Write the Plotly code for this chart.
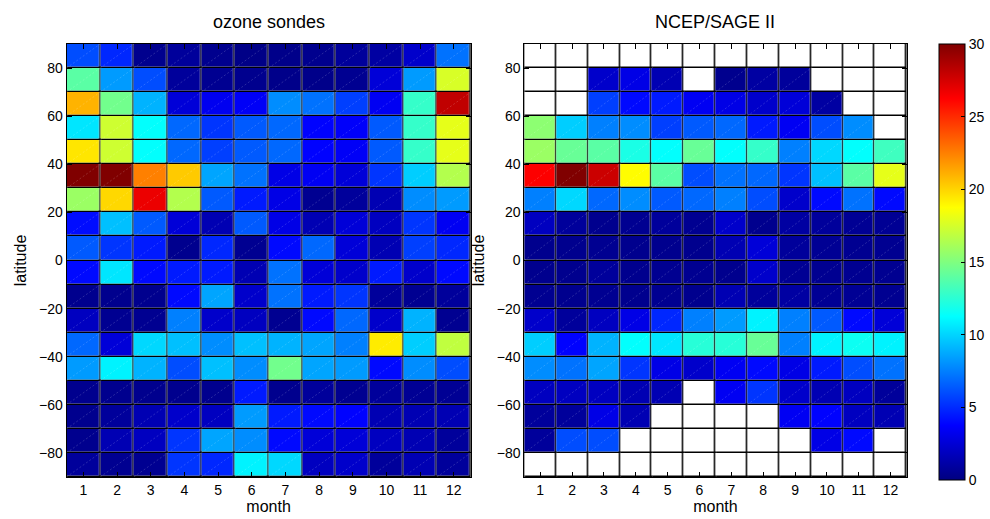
import plotly.graph_objects as go

months = list(range(1, 13))
month_labels = [str(m) for m in months]
lat = [85, 75, 65, 55, 45, 35, 25, 15, 5, -5, -15, -25, -35, -45, -55, -65, -75, -85]
lat_ticks = [80, 60, 40, 20, 0, -20, -40, -60, -80]
cbar_ticks = [0, 5, 10, 15, 20, 25, 30]

N = None
sondes = [
    [6.0, 4.9, 0.4, 0.8, 0.4, 0.2, 0.3, 0.4, 0.8, 1.0, 2.2, 7.1],
    [13.9, 8.3, 6.0, 0.8, 0.5, 0.4, 0.3, 0.3, 0.5, 2.6, 8.3, 17.6],
    [21.0, 14.6, 9.0, 2.6, 3.3, 3.5, 7.9, 7.1, 5.6, 3.4, 12.8, 28.1],
    [10.5, 17.3, 11.3, 6.8, 5.3, 6.4, 6.8, 3.8, 3.6, 6.4, 12.8, 18.0],
    [19.5, 17.3, 11.3, 6.8, 5.6, 6.4, 6.8, 3.8, 3.5, 6.4, 12.8, 18.0],
    [30.0, 30.0, 22.5, 20.3, 8.6, 7.1, 3.0, 3.4, 2.6, 5.3, 9.8, 16.5],
    [15.8, 19.9, 26.8, 16.5, 6.4, 4.5, 3.0, 0.5, 0.8, 1.5, 7.9, 8.3],
    [4.1, 9.4, 6.4, 2.6, 1.5, 6.4, 3.0, 1.5, 2.6, 1.9, 5.3, 3.4],
    [6.4, 5.3, 4.5, 0.4, 4.9, 0.5, 4.0, 6.8, 2.6, 1.5, 5.6, 4.9],
    [4.0, 10.5, 4.0, 4.5, 4.5, 1.5, 7.1, 2.6, 2.2, 4.5, 2.2, 4.0],
    [0.4, 0.4, 0.4, 4.0, 8.6, 2.2, 7.1, 4.5, 5.3, 0.8, 0.5, 0.8],
    [1.9, 0.5, 0.5, 7.5, 2.2, 1.9, 0.5, 4.0, 6.8, 2.2, 9.0, 0.5],
    [6.8, 2.6, 10.1, 9.4, 7.9, 9.4, 9.0, 8.6, 7.5, 19.3, 9.8, 16.9],
    [8.3, 10.9, 9.0, 6.0, 9.4, 7.9, 14.6, 8.6, 8.3, 4.0, 7.9, 6.0],
    [0.4, 0.4, 0.4, 0.4, 0.4, 4.5, 0.4, 0.8, 0.5, 0.8, 0.6, 0.6],
    [0.4, 0.8, 1.5, 2.2, 1.9, 8.3, 4.5, 4.0, 3.8, 1.5, 1.5, 1.5],
    [0.4, 1.5, 1.9, 5.3, 8.6, 7.9, 4.0, 2.6, 2.6, 1.9, 1.5, 0.8],
    [0.8, 0.5, 0.5, 5.3, 4.9, 10.9, 10.1, 1.9, 2.2, 0.8, 1.5, 0.8],
]

ncep_sage = [
    [N, N, N, N, N, N, N, N, N, N, N, N],
    [N, N, 2.2, 3.0, 1.5, N, 0.4, 1.0, 0.8, N, N, N],
    [N, N, 5.6, 4.0, 4.5, 3.4, 3.0, 2.2, 2.6, 1.0, N, N],
    [15.4, 9.8, 7.5, 7.9, 5.6, 6.4, 6.8, 4.5, 3.4, 6.0, 7.9, N],
    [15.8, 14.3, 13.9, 12.0, 11.3, 14.3, 11.3, 12.8, 7.5, 10.1, 11.3, 13.1],
    [26.3, 30.0, 27.8, 18.8, 13.9, 6.0, 7.1, 6.8, 5.3, 9.4, 13.9, 18.0],
    [7.5, 10.1, 6.8, 7.9, 6.4, 6.8, 7.5, 6.0, 2.2, 4.0, 7.1, 4.0],
    [1.9, 0.8, 0.4, 0.5, 0.8, 0.5, 2.2, 0.4, 1.0, 0.8, 0.6, 0.6],
    [0.4, 0.4, 0.5, 0.4, 0.4, 0.4, 1.5, 2.6, 0.8, 0.6, 0.5, 0.5],
    [0.4, 0.4, 0.8, 0.4, 0.5, 0.5, 0.4, 2.2, 0.6, 0.5, 0.5, 0.5],
    [0.5, 0.4, 0.5, 0.4, 0.5, 0.4, 1.5, 0.8, 1.0, 0.6, 0.6, 0.5],
    [2.2, 0.8, 1.9, 3.0, 4.9, 7.5, 8.3, 10.9, 7.5, 6.4, 4.0, 2.6],
    [9.8, 3.8, 9.0, 11.3, 10.5, 12.4, 12.4, 14.3, 7.5, 10.9, 11.6, 10.9],
    [7.9, 7.1, 8.6, 5.3, 3.0, 2.2, 3.4, 4.0, 3.0, 4.5, 6.0, 7.1],
    [1.9, 1.9, 1.9, 1.5, 1.5, N, 3.4, 5.3, 2.2, 1.5, 1.9, 0.8],
    [0.8, 0.8, 3.0, 1.5, N, N, N, N, 3.4, 3.8, 1.9, 1.5],
    [0.8, 6.0, 6.0, N, N, N, N, N, N, 3.0, 4.0, N],
    [N, N, N, N, N, N, N, N, N, N, N, N],
]

FONT = "Liberation Sans, Arial, Helvetica, sans-serif"

jet = [
    [0.0, "rgb(0,0,128)"],
    [0.125, "rgb(0,0,255)"],
    [0.375, "rgb(0,255,255)"],
    [0.625, "rgb(255,255,0)"],
    [0.875, "rgb(255,0,0)"],
    [1.0, "rgb(128,0,0)"],
]

fig = go.Figure()

blank = [[0 for _ in months] for _ in lat]

# faint diagonal rendering artefact in every cell (corner to corner)
dx, dy = [], []
for m in months:
    for la in lat:
        dx += [m - 0.5, m + 0.5, None]
        dy += [la - 5, la + 5, None]

for data, xa, ya in [(sondes, "x", "y"), (ncep_sage, "x2", "y2")]:
    fig.add_trace(go.Heatmap(
        z=blank, x=months, y=lat, xaxis=xa, yaxis=ya,
        colorscale=[[0, "white"], [1, "white"]], showscale=False,
        xgap=1.5, ygap=1.5, hoverinfo="skip"))
    fig.add_trace(go.Heatmap(
        z=data, x=months, y=lat, xaxis=xa, yaxis=ya,
        coloraxis="coloraxis", xgap=1.5, ygap=1.5))
    fig.add_trace(go.Scatter(
        x=dx, y=dy, xaxis=xa, yaxis=ya, mode="lines",
        line=dict(color="rgba(255,255,255,0.28)", width=0.6, dash="2px,2px"),
        hoverinfo="skip", showlegend=False))

y_dom = [(519 - 477) / 519, (519 - 44) / 519]
ax_common = dict(showline=True, linecolor="black", linewidth=1, mirror="ticks",
                 ticks="inside", ticklen=5, tickcolor="black",
                 tickfont=dict(family=FONT, size=14, color="black"),
                 showgrid=False, zeroline=False, fixedrange=True)

xcommon = dict(ax_common, range=[0.5, 12.5], tickvals=months, ticktext=month_labels,
               title=dict(text="month", font=dict(family=FONT, size=16, color="black"), standoff=4))
ycommon = dict(ax_common, range=[-90, 90], tickvals=lat_ticks,
               title=dict(text="latitude", font=dict(family=FONT, size=16, color="black"), standoff=8))

fig.update_layout(
    width=990, height=519,
    margin=dict(l=0, r=0, t=0, b=0),
    paper_bgcolor="white", plot_bgcolor="black",
    showlegend=False,
    xaxis=dict(xcommon, domain=[67 / 990, 474 / 990], anchor="y"),
    yaxis=dict(ycommon, domain=y_dom, anchor="x"),
    xaxis2=dict(xcommon, domain=[528 / 990, 913 / 990], anchor="y2"),
    yaxis2=dict(ycommon, domain=y_dom, anchor="x2"),
    coloraxis=dict(
        colorscale=jet, cmin=0, cmax=30,
        colorbar=dict(
            x=946 / 990, xanchor="left", y=(519 - 44) / 519, yanchor="top",
            len=436, lenmode="pixels", thickness=26, thicknessmode="pixels",
            xpad=0, ypad=0, outlinecolor="black", outlinewidth=1,
            tickvals=cbar_ticks, ticks="inside", ticklen=4, tickcolor="black",
            tickfont=dict(family=FONT, size=14, color="black"))),
    annotations=[
        dict(text="ozone sondes", x=(67 + 474) / 2 / 990, y=(519 - 22) / 519,
             xref="paper", yref="paper", showarrow=False,
             xanchor="center", yanchor="middle",
             font=dict(family=FONT, size=18, color="black")),
        dict(text="NCEP/SAGE II", x=(528 + 913) / 2 / 990, y=(519 - 22) / 519,
             xref="paper", yref="paper", showarrow=False,
             xanchor="center", yanchor="middle",
             font=dict(family=FONT, size=18, color="black")),
    ],
)

fig.write_html("out.html", config={"displayModeBar": False},
               post_script="document.body.style.margin='0';document.body.style.overflow='hidden';")
